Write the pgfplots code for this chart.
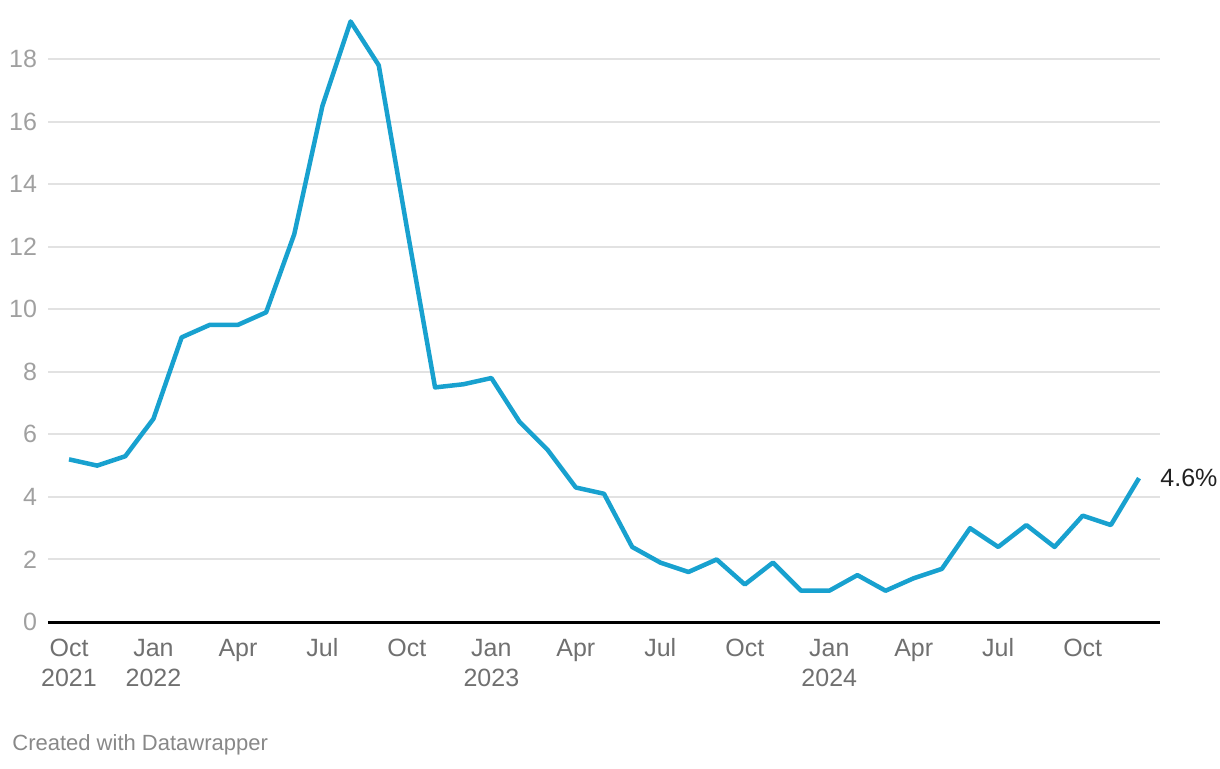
\documentclass[border=0pt]{standalone}
\usepackage{pgfplots}
\pgfplotsset{compat=1.18}
\usepackage{fontspec}
\setmainfont{Liberation Sans}
\definecolor{linecol}{RGB}{24,161,207}
\definecolor{gridcol}{RGB}{226,226,226}
\definecolor{ylab}{RGB}{160,160,160}
\definecolor{xlab}{RGB}{112,112,112}
\definecolor{credit}{RGB}{136,136,136}
\begin{document}
\begin{tikzpicture}
\begin{axis}[
  scale only axis, width=556pt, height=302pt,
  xmin=-0.746, xmax=38.746, ymin=0, ymax=19.31,
  clip=false,
  axis line style={draw=none},
  major tick length=0pt,
  ytick={0,2,...,18},
  ymajorgrids, grid style={color=gridcol, line width=1pt},
  xtick={0,3,...,36},
  xticklabels={\strut Oct\\2021,\strut Jan\\2022,\strut Apr,\strut Jul,\strut Oct,\strut Jan\\2023,\strut Apr,\strut Jul,\strut Oct,\strut Jan\\2024,\strut Apr,\strut Jul,\strut Oct},
  /pgf/number format/assume math mode=true,
  x tick label style={align=center, font=\fontsize{12.5}{15.2}\selectfont, text=xlab, yshift=-3pt},
  y tick label style={font=\fontsize{12.5}{15}\selectfont, text=ylab, xshift=-2pt},
]
\draw[black, line width=1.5pt] (axis cs:-0.746,0) -- (axis cs:38.746,0);
\addplot[linecol, line width=2.25pt, line join=round] coordinates {
(0,5.2) (1,5.0) (2,5.3) (3,6.5) (4,9.1) (5,9.5) (6,9.5) (7,9.9) (8,12.4) (9,16.5) (10,19.2) (11,17.8)
(12,12.6) (13,7.5) (14,7.6) (15,7.8) (16,6.4) (17,5.5) (18,4.3) (19,4.1) (20,2.4) (21,1.9) (22,1.6) (23,2.0)
(24,1.2) (25,1.9) (26,1.0) (27,1.0) (28,1.5) (29,1.0) (30,1.4) (31,1.7) (32,3.0) (33,2.4) (34,3.1) (35,2.4)
(36,3.4) (37,3.1) (38,4.6)
};
\node[anchor=west, inner sep=0pt, xshift=10.5pt, font=\fontsize{12.5}{15}\selectfont, text=black!87] at (axis cs:38,4.6) {4.6\%};
\end{axis}
\node[anchor=west, inner sep=0pt, font=\fontsize{11}{13}\selectfont, text=credit] at ([shift={(-18pt,-61.5pt)}]current axis.south west) {Created with Datawrapper};
\path[use as bounding box] ([shift={(-24pt,-73pt)}]current axis.south west) rectangle ([shift={(586pt,311pt)}]current axis.south west);
\end{tikzpicture}
\end{document}
